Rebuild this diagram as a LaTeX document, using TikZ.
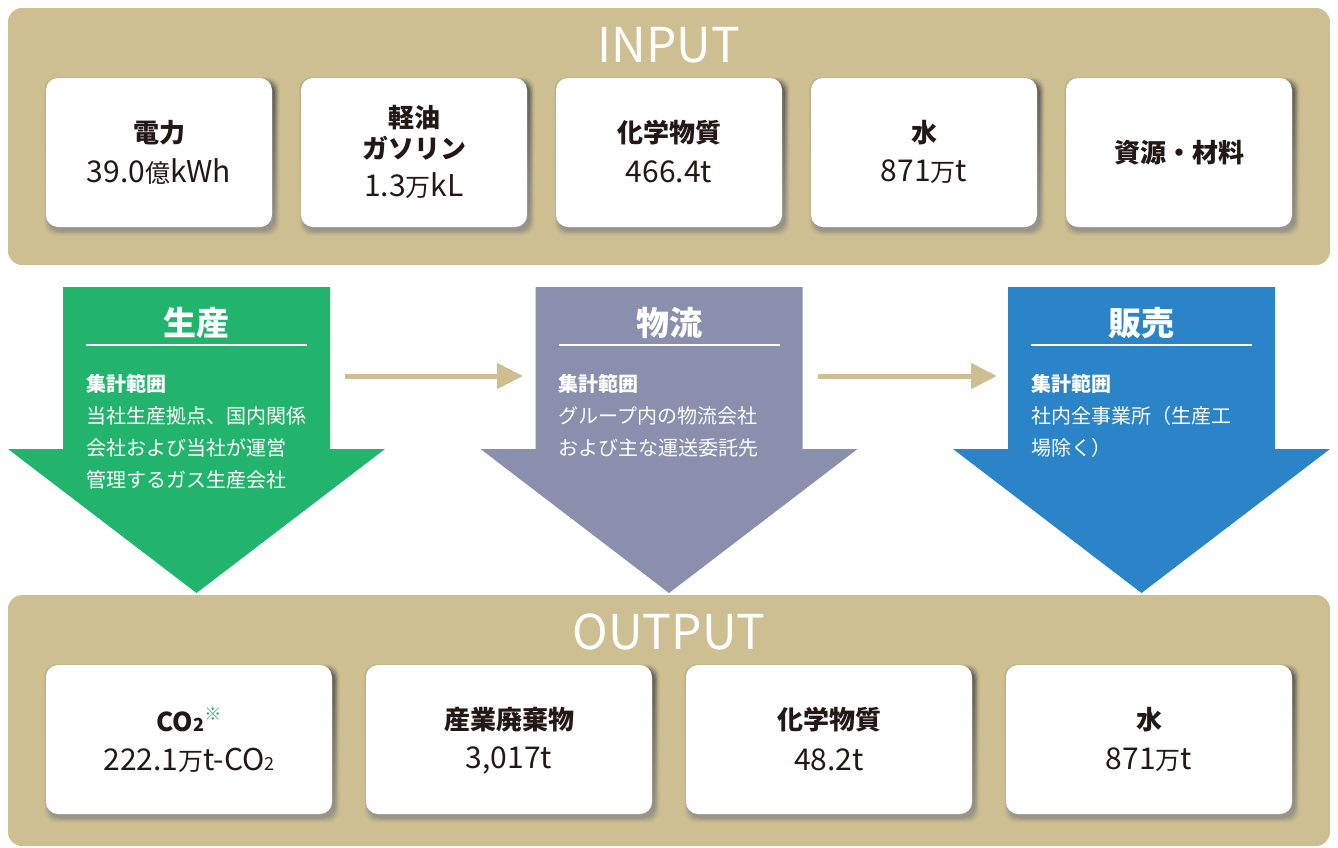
\documentclass[tikz,border=0pt]{standalone}
\usepackage{fontspec}
\setmainfont{Noto Sans CJK JP}
\usetikzlibrary{arrows.meta,calc}
\definecolor{panel}{HTML}{CDBF91}
\definecolor{shade}{HTML}{8E7C45}
\definecolor{ink}{HTML}{231815}
\definecolor{gArrow}{HTML}{22B36C}
\definecolor{pArrow}{HTML}{8A8FAD}
\definecolor{bArrow}{HTML}{2A84C7}
\definecolor{markc}{HTML}{22B36C}
\pgfdeclarelayer{back}
\pgfdeclarelayer{mid}
\pgfsetlayers{back,mid,main}
\tikzset{
 panelbox/.style={fill=panel, rounded corners=14pt},
 card/.style={fill=white, rounded corners=12pt, inner sep=0pt, minimum height=149pt},
 incard/.style={card, minimum width=226pt},
 outcard/.style={card, minimum width=286pt},
 headtxt/.style={text=white, font=\fontsize{48}{48}\selectfont, inner sep=0pt},
 ttl/.style={text=ink, font=\fontsize{26}{26}\selectfont\bfseries, inner sep=0pt},
 val/.style={text=ink, font=\fontsize{30}{30}\selectfont, inner sep=0pt},
 atitle/.style={text=white, font=\fontsize{33}{33}\selectfont\bfseries, inner sep=0pt},
 abody/.style={text=white, font=\fontsize{20}{32}\selectfont, inner sep=0pt, align=left, anchor=base west},
 uline/.style={white, line width=2pt},
 flow/.style={panel, line width=5pt, -{Triangle[length=26pt,width=25pt]}},
}
\newcommand\kj[1]{{\fontsize{25}{25}\selectfont #1}}
\newcommand\subtwo{{\fontsize{18}{18}\selectfont 2}}
\newcommand\cardshadow[1]{%
 \foreach \e/\o in {0/0.30,1.5/0.18,3/0.10,4.5/0.05}{%
 \fill[shade, opacity=\o, rounded corners=12pt] ($(#1.south west)+(3-\e,4+\e)$) rectangle ($(#1.north east)+(3+\e,4-\e)$);}}
\newcommand\bigarrow[2]{%
 \fill[#2] (#1-133.5,287) -- (#1+133.5,287) -- (#1+133.5,449) -- (#1+188.5,449) -- (#1,593) -- (#1-188.5,449) -- (#1-133.5,449) -- cycle;}
\begin{document}
\begin{tikzpicture}[x=1pt,y=-1pt]
\useasboundingbox (0,0) rectangle (1338,847);
\begin{pgfonlayer}{back}
\fill[panelbox] (8,8) rectangle (1330,265);
\fill[panelbox] (8,595) rectangle (1330,846);
\end{pgfonlayer}

% INPUT
\node[headtxt] (inhead) at (669,45) {INPUT};
\node[incard] (in1) at (159,152.5) {};
\node[incard] (in2) at (414,152.5) {};
\node[incard] (in3) at (669,152.5) {};
\node[incard] (in4) at (924,152.5) {};
\node[incard] (in5) at (1179,152.5) {};
\node[ttl] (in1t) at (159,133) {電力};
\node[val] (in1v) at (159,172) {39.0\kj{億}kWh};
\node[ttl] (in2t) at (414,118) {軽油};
\node[ttl] (in2u) at (414,148) {ガソリン};
\node[val] (in2v) at (414,186) {1.3\kj{万}kL};
\node[ttl] (in3t) at (669,133) {化学物質};
\node[val] (in3v) at (669,172) {466.4t};
\node[ttl] (in4t) at (924,133) {水};
\node[val] (in4v) at (924,172) {871\kj{万}t};
\node[ttl] (in5t) at (1179,153) {資源・材料};

% OUTPUT
\node[headtxt] (outhead) at (669,632) {OUTPUT};
\node[outcard] (out1) at (189,739.5) {};
\node[outcard] (out2) at (509,739.5) {};
\node[outcard] (out3) at (829,739.5) {};
\node[outcard] (out4) at (1149,739.5) {};
\node[ttl] (out1t) at (189,720) {CO\subtwo\raisebox{0.4em}{\textcolor{markc}{\fontsize{17}{17}\selectfont ※}}};
\node[val] (out1v) at (189,760) {222.1\kj{万}t-CO\subtwo};
\node[ttl] (out2t) at (509,720) {産業廃棄物};
\node[val] (out2v) at (509,760) {3,017t};
\node[ttl] (out3t) at (829,720) {化学物質};
\node[val] (out3v) at (829,760) {48.2t};
\node[ttl] (out4t) at (1149,720) {水};
\node[val] (out4v) at (1149,760) {871\kj{万}t};

\begin{pgfonlayer}{mid}
\foreach \n in {in1,in2,in3,in4,in5,out1,out2,out3,out4}{\cardshadow{\n}}
\end{pgfonlayer}

% process arrows
\bigarrow{196.5}{gArrow}
\bigarrow{669}{pArrow}
\bigarrow{1141.5}{bArrow}

\node[atitle] (prod) at (196.5,323) {生産};
\draw[uline] (86,345) -- (307,345);
\node[abody] (prodb) at (86,487.5) {{\bfseries 集計範囲}\\当社生産拠点、国内関係\\会社および当社が運営\\管理するガス生産会社};

\node[atitle] (logi) at (669,323) {物流};
\draw[uline] (558.5,345) -- (779.5,345);
\node[abody] (logib) at (558.5,455.5) {{\bfseries 集計範囲}\\グループ内の物流会社\\および主な運送委託先};

\node[atitle] (sale) at (1141.5,323) {販売};
\draw[uline] (1031,345) -- (1252,345);
\node[abody] (saleb) at (1031,455.5) {{\bfseries 集計範囲}\\社内全事業所（生産工\\場除く）};

% flow arrows
\coordinate (f1a) at (345,376);
\coordinate (f1b) at (523,376);
\coordinate (f2a) at (818,376);
\coordinate (f2b) at (997,376);
\draw[flow] (f1a) -- (f1b);
\draw[flow] (f2a) -- (f2b);
\end{tikzpicture}
\end{document}
